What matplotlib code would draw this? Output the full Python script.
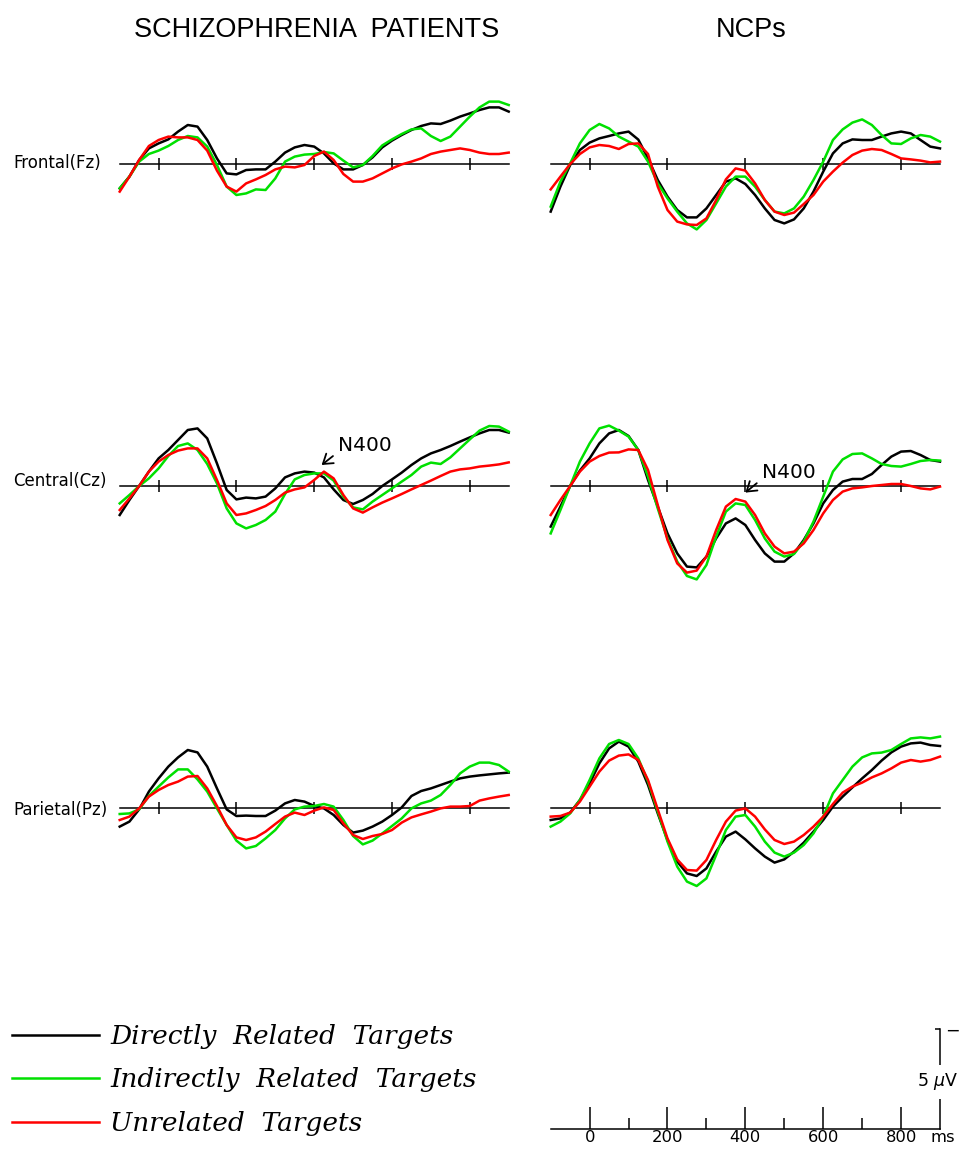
import matplotlib
matplotlib.use("Agg")
import matplotlib.pyplot as plt
import numpy as np

# ---------------- data ----------------
times = np.arange(-100, 901, 25)          # ms
groups = ["SCHIZOPHRENIA  PATIENTS", "NCPs"]
sites = ["Frontal(Fz)", "Central(Cz)", "Parietal(Pz)"]
conditions = ["Directly  Related  Targets", "Indirectly  Related  Targets", "Unrelated  Targets"]
colors = ["#000000", "#00e000", "#ff0000"]
panel_ticks = [0, 200, 400, 600, 800]
scale_major = [0, 200, 400, 600, 800]
scale_minor = [100, 300, 500, 700]
scale_uv = 5

# amplitudes in microvolts (negative plotted up)
scz_fz_direct = [1.22,0.63,-0.20,-0.78,-1.03,-1.23,-1.62,-1.95,-1.87,-1.20, -0.28,0.47,0.52,0.30,0.27,0.27,-0.12,-0.57,-0.83,-0.95,
                 -0.87,-0.53,-0.03,0.27,0.27,0.05,-0.33,-0.83,-1.17,-1.45, -1.70,-1.90,-2.03,-2.00,-2.17,-2.37,-2.53,-2.70,-2.83,-2.83, -2.62]
scz_fz_indirect = [1.22,0.63,-0.12,-0.50,-0.67,-0.90,-1.20,-1.40,-1.33,-0.87, 0.05,1.13,1.55,1.47,1.27,1.30,0.72,-0.12,-0.37,-0.47,
                   -0.50,-0.60,-0.53,-0.17,0.17,0.05,-0.40,-0.93,-1.23,-1.50, -1.73,-1.78,-1.40,-1.15,-1.37,-1.87,-2.37,-2.83,-3.12,-3.12, -2.95]
scz_fz_unrel = [1.38,0.63,-0.20,-0.90,-1.20,-1.37,-1.33,-1.33,-1.20,-0.67, 0.33,1.13,1.38,0.97,0.77,0.55,0.27,0.13,0.17,0.05,
                -0.40,-0.62,-0.20,0.50,0.88,0.88,0.72,0.47,0.22,0.02, -0.12,-0.28,-0.50,-0.62,-0.70,-0.78,-0.70,-0.57,-0.50,-0.50, -0.57]

ncp_fz_direct = [2.38,1.13,0.05,-0.70,-1.07,-1.28,-1.40,-1.53,-1.62,-1.22, -0.28,0.80,1.63,2.30,2.67,2.67,2.22,1.55,0.88,0.72,
                 1.00,1.55,2.22,2.80,2.97,2.77,2.22,1.38,0.38,-0.53, -1.03,-1.23,-1.20,-1.20,-1.37,-1.53,-1.62,-1.53,-1.20,-0.87, -0.78]
ncp_fz_indirect = [2.13,0.88,-0.03,-1.03,-1.70,-2.00,-1.78,-1.37,-1.12,-0.87, -0.12,0.97,1.72,2.38,2.97,3.27,2.80,1.97,1.13,0.63,
                   0.63,1.13,1.80,2.38,2.47,2.22,1.63,0.80,-0.12,-1.20, -1.73,-2.07,-2.23,-1.95,-1.45,-1.03,-1.00,-1.28,-1.45,-1.37, -1.12]
ncp_fz_unrel = [1.27,0.63,0.00,-0.50,-0.83,-0.95,-0.90,-0.75,-1.00,-1.03, -0.50,1.13,2.30,2.88,3.02,3.05,2.72,1.80,0.77,0.22,
                0.33,0.97,1.80,2.38,2.55,2.43,2.00,1.55,0.88,0.38, -0.07,-0.45,-0.67,-0.75,-0.70,-0.50,-0.28,-0.23,-0.17,-0.08, -0.12]

scz_cz_direct = [1.45,0.70,0.00,-0.72,-1.38,-1.80,-2.30,-2.80,-2.88,-2.38, -1.13,0.20,0.67,0.58,0.62,0.53,0.12,-0.43,-0.63,-0.72,
                 -0.67,-0.43,0.17,0.70,0.90,0.70,0.40,0.00,-0.33,-0.67, -1.05,-1.38,-1.63,-1.80,-2.00,-2.22,-2.43,-2.63,-2.80,-2.80, -2.67]
scz_cz_indirect = [0.87,0.45,0.00,-0.38,-0.88,-1.50,-2.00,-2.13,-1.80,-1.10, -0.13,1.12,1.87,2.12,1.95,1.70,1.28,0.40,-0.33,-0.55,
                   -0.63,-0.63,-0.27,0.53,1.07,1.17,0.78,0.45,0.12,-0.22, -0.55,-0.97,-1.17,-1.10,-1.43,-1.88,-2.33,-2.77,-3.00,-2.97, -2.72]
scz_cz_unrel = [1.20,0.62,0.00,-0.72,-1.22,-1.55,-1.77,-1.88,-1.88,-1.38, -0.30,0.87,1.45,1.37,1.20,1.00,0.70,0.33,0.17,0.07,
                -0.30,-0.72,-0.38,0.45,1.12,1.33,1.07,0.83,0.62,0.40, 0.17,-0.05,-0.27,-0.50,-0.72,-0.83,-0.88,-0.97,-1.02,-1.08, -1.18]

ncp_cz_direct = [2.03,1.03,0.00,-0.77,-1.38,-2.13,-2.63,-2.80,-2.50,-1.80, -0.30,1.03,2.37,3.37,4.03,4.07,3.53,2.62,1.87,1.62,
                 1.95,2.70,3.37,3.78,3.78,3.37,2.70,1.87,0.87,0.20, -0.22,-0.35,-0.35,-0.60,-1.05,-1.47,-1.72,-1.75,-1.55,-1.30, -1.22]
ncp_cz_indirect = [2.37,1.20,0.00,-1.22,-2.13,-2.88,-3.02,-2.77,-2.47,-1.80, -0.47,1.12,2.62,3.78,4.50,4.67,3.95,2.53,1.28,0.87,
                   0.95,1.70,2.62,3.28,3.53,3.40,2.78,1.78,0.53,-0.72, -1.33,-1.60,-1.63,-1.38,-1.10,-1.00,-0.97,-1.10,-1.25,-1.30, -1.27]
ncp_cz_unrel = [1.45,0.70,0.00,-0.72,-1.22,-1.50,-1.67,-1.68,-1.83,-1.80, -0.80,0.95,2.70,3.87,4.33,4.23,3.53,2.20,1.03,0.65,
                0.78,1.45,2.37,3.03,3.37,3.28,2.87,2.20,1.37,0.70, 0.28,0.12,0.07,0.00,-0.05,-0.10,-0.10,0.00,0.12,0.17, 0.03]

scz_pz_direct = [0.93,0.68,0.07,-0.82,-1.48,-2.07,-2.53,-2.90,-2.78,-2.07, -0.98,0.07,0.40,0.38,0.40,0.40,0.13,-0.23,-0.40,-0.32,
                 -0.10,0.02,0.35,0.85,1.23,1.13,0.93,0.68,0.35,-0.03, -0.60,-0.85,-0.98,-1.15,-1.32,-1.48,-1.57,-1.63,-1.68,-1.73, -1.77]
scz_pz_indirect = [0.30,0.27,0.07,-0.60,-1.07,-1.53,-1.93,-1.93,-1.43,-0.82, 0.02,0.85,1.63,2.02,1.90,1.52,1.10,0.52,0.07,-0.07,
                   -0.10,-0.20,-0.07,0.60,1.40,1.82,1.63,1.27,0.90,0.52, 0.02,-0.23,-0.37,-0.65,-1.15,-1.73,-2.07,-2.27,-2.27,-2.15, -1.82]
scz_pz_unrel = [0.60,0.43,0.02,-0.57,-0.90,-1.15,-1.32,-1.57,-1.60,-0.98, -0.10,0.85,1.47,1.60,1.47,1.18,0.80,0.43,0.23,0.35,
                0.13,-0.03,0.10,0.77,1.35,1.55,1.40,1.30,1.10,0.73, 0.47,0.32,0.18,0.02,-0.07,-0.07,-0.10,-0.37,-0.48,-0.57, -0.65]

ncp_pz_direct = [0.60,0.52,0.23,-0.40,-1.23,-2.23,-2.98,-3.32,-3.07,-2.32, -1.15,0.27,1.60,2.68,3.27,3.40,3.02,2.18,1.43,1.18,
                 1.57,2.02,2.43,2.73,2.57,2.18,1.73,1.18,0.60,-0.07, -0.57,-1.03,-1.48,-1.90,-2.37,-2.78,-3.07,-3.23,-3.27,-3.15, -3.10]
ncp_pz_indirect = [0.93,0.68,0.27,-0.40,-1.40,-2.48,-3.20,-3.40,-3.20,-2.48, -1.32,0.18,1.68,2.93,3.68,3.90,3.52,2.35,1.10,0.43,
                   0.35,0.93,1.68,2.23,2.43,2.23,1.85,1.27,0.43,-0.73, -1.40,-2.07,-2.53,-2.73,-2.77,-2.90,-3.20,-3.48,-3.53,-3.48, -3.57]
ncp_pz_unrel = [0.43,0.40,0.23,-0.32,-1.07,-1.82,-2.37,-2.62,-2.68,-2.40, -1.40,0.07,1.52,2.57,3.10,3.13,2.60,1.60,0.68,0.13,
                0.02,0.43,1.07,1.60,1.80,1.68,1.35,0.93,0.43,-0.20, -0.77,-1.07,-1.27,-1.53,-1.73,-1.98,-2.27,-2.40,-2.32,-2.40, -2.57]

panels = [
    [[scz_fz_direct, scz_fz_indirect, scz_fz_unrel], [ncp_fz_direct, ncp_fz_indirect, ncp_fz_unrel]],
    [[scz_cz_direct, scz_cz_indirect, scz_cz_unrel], [ncp_cz_direct, ncp_cz_indirect, ncp_cz_unrel]],
    [[scz_pz_direct, scz_pz_indirect, scz_pz_unrel], [ncp_pz_direct, ncp_pz_indirect, ncp_pz_unrel]],
]

# N400 annotations: (row, col, arrow tip (ms, uV), text position (ms, uV))
n400_notes = [(1, 0, (419, -1.05), (461, -1.75)), (1, 1, (400, 0.33), (442, -0.40))]

# ---------------- layout ----------------
W, H = 964, 1150
fig = plt.figure(figsize=(W / 100, H / 100), dpi=100)

def add_px_axes(x0, ytop, w, h):
    return fig.add_axes([x0 / W, 1 - (ytop + h) / H, w / W, h / H])

col_x = [119.7, 550.7]
col_w = [389.0, 389.3]
row_base = [164, 486, 808]
row_label_base = [168, 486, 815]
half = 120  # px for 6 uV

axes = {}
lines_for_legend = None
for r in range(3):
    for c in range(2):
        ax = add_px_axes(col_x[c], row_base[r] - half, col_w[c], 2 * half)
        ax.set_xlim(-100, 900)
        ax.set_ylim(6, -6)
        ax.patch.set_visible(False)
        for s in ["top", "left", "right"]:
            ax.spines[s].set_visible(False)
        ax.spines["bottom"].set_position(("data", 0))
        ax.spines["bottom"].set_linewidth(1.1)
        ax.set_xticks(panel_ticks)
        ax.tick_params(axis="x", direction="inout", length=8.6, width=1.1, labelbottom=False)
        ax.set_yticks([])
        lns = []
        for k, series in enumerate(panels[r][c]):
            ln, = ax.plot(times, series, color=colors[k], lw=1.8, zorder=3 + k * 0.1,
                          clip_on=False, solid_joinstyle="round")
            lns.append(ln)
        if lines_for_legend is None:
            lines_for_legend = lns
        axes[(r, c)] = ax

for (r, c, tip, txt) in n400_notes:
    axes[(r, c)].annotate("N400", xy=tip, xytext=txt, ha="left", va="baseline",
                          fontsize=14.5, family="DejaVu Sans",
                          arrowprops=dict(arrowstyle="->,head_length=0.45,head_width=0.3",
                                          color="black", lw=1.3, relpos=(0.0, 0.15),
                                          shrinkA=2, shrinkB=0))

# titles
title_x = [317, 751]
for g, x in zip(groups, title_x):
    fig.text(x / W, 1 - 37 / H, g, ha="center", va="baseline", fontsize=19.5,
             family="Liberation Sans")

# row labels
for s, yb in zip(sites, row_label_base):
    fig.text(13 / W, 1 - yb / H, s, ha="left", va="baseline", fontsize=12,
             family="DejaVu Sans")

# scale bar axes
sax = add_px_axes(col_x[1], 1029, col_w[1], 100)
sax.set_xlim(-100, 900)
sax.set_ylim(0, -scale_uv)
sax.patch.set_visible(False)
sax.spines["top"].set_visible(False)
sax.spines["left"].set_visible(False)
sax.spines["bottom"].set_linewidth(1.1)
sax.spines["right"].set_linewidth(1.1)
sax.set_xticks(scale_major)
sax.set_xticks(scale_minor, minor=True)
sax.set_xticklabels([str(v) for v in scale_major])
sax.tick_params(axis="x", which="major", direction="in", length=15.8, width=1.1,
                labelsize=11.8, pad=1)
sax.tick_params(axis="x", which="minor", direction="in", length=7.9, width=1.1)
sax.yaxis.tick_right()
sax.set_yticks([-scale_uv])
sax.set_yticklabels(["\u2212"])
sax.tick_params(axis="y", direction="in", length=3.6, width=1.1, pad=4, labelsize=12.5)
sax.annotate("ms", xy=(1.008, 0), xycoords="axes fraction", xytext=(0, -1),
             textcoords="offset points", ha="center", va="top", fontsize=11.8)
sax.text(0.995, 0.47, "%d $\\mu$V" % scale_uv, transform=sax.transAxes, ha="center",
         va="center", fontsize=12.5, zorder=5,
         bbox=dict(facecolor="white", edgecolor="none", pad=4.5))

# legend
fig.legend(lines_for_legend, conditions, loc="upper left",
           bbox_to_anchor=(12 / W, 1 - 1024 / H), frameon=False,
           prop={"family": "DejaVu Serif", "style": "italic", "size": 19},
           handlelength=3.3, handletextpad=0.42, labelspacing=0.70,
           borderpad=0, borderaxespad=0)

fig.savefig("out.png", dpi=100)
